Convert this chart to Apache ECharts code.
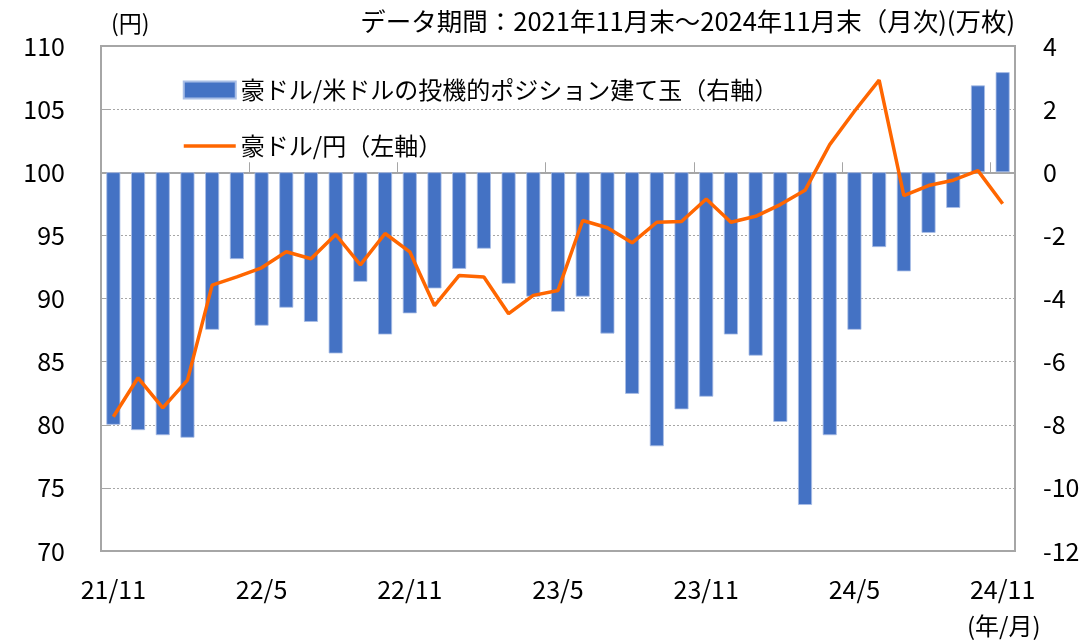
<!DOCTYPE html>
<html>
<head>
<meta charset="utf-8">
<script src="https://cdn.jsdelivr.net/npm/echarts@6/dist/echarts.min.js"></script>
<style>
html,body{margin:0;padding:0;background:#fff;}
#c{width:1089px;height:640px;}
</style>
</head>
<body>
<div id="c"></div>
<script>
const categories = [
  '21/11','21/12','22/1','22/2','22/3','22/4','22/5','22/6','22/7','22/8','22/9','22/10',
  '22/11','22/12','23/1','23/2','23/3','23/4','23/5','23/6','23/7','23/8','23/9','23/10',
  '23/11','23/12','24/1','24/2','24/3','24/4','24/5','24/6','24/7','24/8','24/9','24/10','24/11'
];
const positions = [
  -8.00, -8.17, -8.33, -8.41, -4.99, -2.75, -4.86, -4.29, -4.74, -5.74, -3.47, -5.14,
  -4.47, -3.68, -3.06, -2.42, -3.53, -3.94, -4.42, -3.94, -5.11, -7.02, -8.68, -7.51,
  -7.11, -5.14, -5.81, -7.91, -10.54, -8.33, -4.99, -2.37, -3.14, -1.92, -1.13, 2.75, 3.17
];
const audjpy = [
  80.63, 83.72, 81.34, 83.53, 91.06, 91.72, 92.43, 93.70, 93.15, 95.07, 92.67, 95.15,
  93.70, 89.43, 91.83, 91.71, 88.80, 90.25, 90.64, 96.18, 95.60, 94.41, 96.04, 96.10,
  97.88, 96.04, 96.51, 97.44, 98.57, 102.19, 104.83, 107.29, 98.15, 98.95, 99.37, 100.13, 97.50
];
const seriesNames = ['豪ドル/米ドルの投機的ポジション建て玉（右軸）', '豪ドル/円（左軸）'];
const titleText = 'データ期間：2021年11月末～2024年11月末（月次)(万枚)';
const leftUnit = '(円)';
const xUnit = '(年/月)';

const FONT = '"Noto Sans CJK JP", "Noto Sans", sans-serif';
const chart = echarts.init(document.getElementById('c'), null, {renderer: 'canvas'});
chart.setOption({
  animation: false,
  backgroundColor: '#ffffff',
  textStyle: {fontFamily: FONT},
  grid: {left: 101, right: 74, top: 46, bottom: 89, containLabel: false,
         show: true, borderColor: '#A6A6A6', borderWidth: 2, backgroundColor: 'transparent'},
  legend: {
    orient: 'vertical',
    left: 177, top: 71,
    itemWidth: 52, itemHeight: 17, itemGap: 28,
    textStyle: {fontSize: 24, color: '#000', fontFamily: FONT, lineHeight: 28},
    data: [
      {name: seriesNames[0], icon: 'rect'},
      {name: seriesNames[1], itemStyle: {opacity: 0}, lineStyle: {width: 3.5, color: '#FF6600'}}
    ]
  },
  graphic: [
    {type: 'text', x: 111, y: 23, style: {text: leftUnit, fontSize: 23, fill: '#000', fontFamily: FONT, verticalAlign: 'middle'}},
    {type: 'text', x: 1015, y: 21, style: {text: titleText, fontSize: 25.5, fill: '#000', fontFamily: FONT, align: 'right', verticalAlign: 'middle'}},
    {type: 'text', x: 967, y: 626, style: {text: xUnit, fontSize: 24, fill: '#000', fontFamily: FONT, verticalAlign: 'middle'}}
  ],
  xAxis: {
    type: 'category',
    data: categories,
    boundaryGap: true,
    axisLine: {show: true, lineStyle: {color: '#A6A6A6', width: 2}},
    axisTick: {show: true, inside: true, length: 10, interval: 5, alignWithLabel: false, lineStyle: {color: '#A6A6A6', width: 1}},
    axisLabel: {interval: 5, fontSize: 25, color: '#000', margin: 26, fontFamily: FONT},
    splitLine: {show: false}
  },
  yAxis: [
    {
      type: 'value', min: 70, max: 110, interval: 5, position: 'left',
      axisLine: {show: true, lineStyle: {color: '#A6A6A6', width: 2}},
      axisTick: {show: true, inside: true, length: 8, lineStyle: {color: '#A6A6A6'}},
      axisLabel: {fontSize: 25, color: '#000', margin: 36, fontFamily: FONT},
      splitLine: {show: true, lineStyle: {color: '#A6A6A6', type: [2, 2], width: 1}}
    },
    {
      type: 'value', min: -12, max: 4, interval: 2, position: 'right',
      axisLine: {show: true, lineStyle: {color: '#A6A6A6', width: 2}},
      axisTick: {show: false},
      axisLabel: {fontSize: 25, color: '#000', margin: 28, fontFamily: FONT},
      splitLine: {show: false}
    }
  ],
  series: [
    {
      name: seriesNames[0], type: 'bar', yAxisIndex: 1, data: positions,
      barWidth: 14,
      itemStyle: {color: '#4472C4', borderColor: '#A9BEE6', borderWidth: 0.8},
      z: 2
    },
    {
      name: seriesNames[1], type: 'line', yAxisIndex: 0, data: audjpy,
      symbol: 'none',
      lineStyle: {color: '#FF6600', width: 3.5},
      itemStyle: {color: '#FF6600'},
      z: 3
    }
  ]
});
</script>
</body>
</html>
